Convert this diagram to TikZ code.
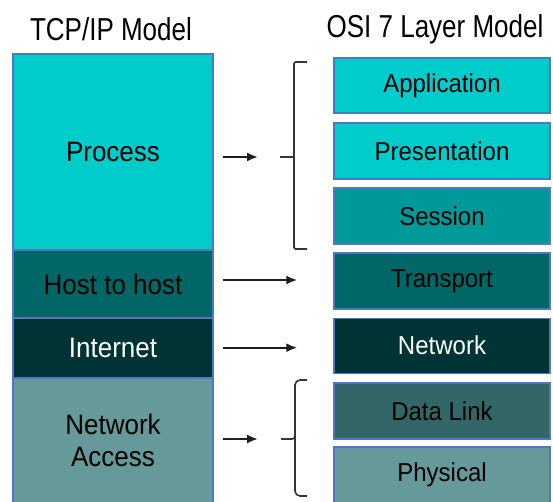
\documentclass[tikz,border=0pt]{standalone}
\usepackage{fontspec}
\setmainfont{Liberation Sans}
\usetikzlibrary{arrows.meta,calc}

\definecolor{cyanA}{RGB}{0,204,204}
\definecolor{tealB}{RGB}{0,153,153}
\definecolor{tealC}{RGB}{0,102,102}
\definecolor{tealD}{RGB}{0,51,51}
\definecolor{slateE}{RGB}{51,102,102}
\definecolor{greyF}{RGB}{102,153,153}
\definecolor{edgeblue}{RGB}{80,118,196}
\definecolor{inkgrey}{RGB}{30,30,30}

% labels are set slightly taller than their natural shape
\newcommand{\tallish}[1]{\scalebox{1}[1.08]{#1}}

\tikzset{
  layer/.style={draw=edgeblue, line width=1.4pt, rectangle, inner sep=0pt,
    align=center, text=black},
  leftlayer/.style={layer, minimum width=200pt, font=\fontsize{26}{30}\selectfont},
  osilayer/.style={layer, minimum width=216pt, font=\fontsize{24}{28}\selectfont},
  heading/.style={font=\fontsize{26}{30}\selectfont, text=black, inner sep=0pt},
  arr/.style={line width=2pt, draw=inkgrey, -{Latex[length=11pt,width=9pt]}},
  bracket/.style={line width=1.6pt, draw=inkgrey!90!white},
}

\begin{document}
\begin{tikzpicture}[x=1pt,y=-1pt]
  \useasboundingbox (0,0) rectangle (553,502);
  \clip (0,0) rectangle (553,502);

  % headings
  \node[heading] (tcptitle) at (111,29) {\scalebox{1}[1.22]{TCP/IP Model}};
  \node[heading] (osititle) at (435,29) {\scalebox{1}[1.22]{OSI 7 Layer Model}};

  % TCP/IP stack
  \node[leftlayer, fill=cyanA, minimum height=196pt] (process) at (113,152) {\tallish{Process}};
  \node[leftlayer, fill=tealC, minimum height=68pt] (host) at (113,284) {\tallish{Host to host}};
  \node[leftlayer, fill=tealD, minimum height=60pt, text=white] (internet) at (113,348) {\tallish{Internet}};
  \node[leftlayer, fill=greyF, minimum height=132pt] (netacc) at (113,444)
    {\tallish{\begin{tabular}{@{}c@{}}Network\\Access\end{tabular}}};

  % OSI stack
  \node[osilayer, fill=cyanA, minimum height=55pt] (app) at (442,85.5) {\tallish{Application}};
  \node[osilayer, fill=cyanA, minimum height=56pt] (pres) at (442,151) {\tallish{Presentation}};
  \node[osilayer, fill=tealB, minimum height=56pt] (sess) at (442,216) {\tallish{Session}};
  \node[osilayer, fill=tealC, minimum height=56pt] (trans) at (442,281) {\tallish{Transport}};
  \node[osilayer, fill=tealD, minimum height=55pt, text=white] (net) at (442,345.7) {\tallish{Network}};
  \node[osilayer, fill=slateE, minimum height=56pt] (dlink) at (442,411) {\tallish{Data Link}};
  \node[osilayer, fill=greyF, minimum height=56pt] (phys) at (442,475) {\tallish{Physical}};

  % brackets grouping OSI layers
  \coordinate (tipA) at (280,157);
  \coordinate (tipB) at (281,439);
  \draw[bracket, rounded corners=1.5pt] (307,62) -- (294,62) -- (294,249) -- (307,249);
  \draw[bracket] (294,157) -- (tipA);
  \draw[bracket, rounded corners=5pt] (307,380) -- (295,380) -- (295,496) -- (307,496);
  \draw[bracket, rounded corners=3pt] (295,433) -- (295,439) -- (tipB);

  % mapping arrows
  \draw[arr] ($(process.east)+(9,5)$) -- ($(tipA)+(-22,0)$);
  \draw[arr] ($(host.east |- trans.west)+(9,-1)$) -- ($(trans.west)+(-36,-1)$);
  \draw[arr] ($(internet.east |- net.west)+(9,2)$) -- ($(net.west)+(-36,2)$);
  \draw[arr] ($(netacc.east |- tipB)+(9,0)$) -- ($(tipB)+(-23,0)$);
\end{tikzpicture}
\end{document}
